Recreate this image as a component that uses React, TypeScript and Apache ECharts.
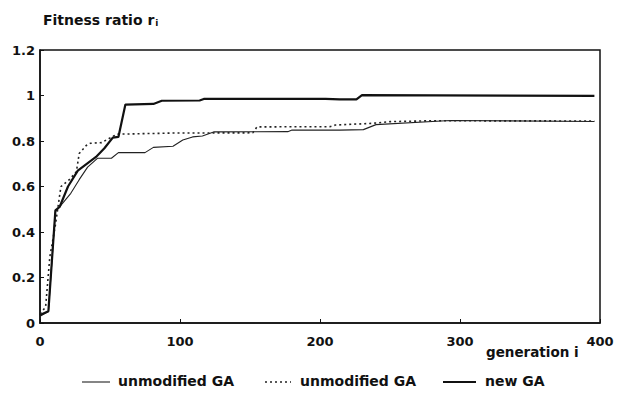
import React, { useEffect, useRef } from "react";
import * as echarts from "echarts";

const xTicks = [0, 100, 200, 300, 400];
const yTicks = [0, 0.2, 0.4, 0.6, 0.8, 1, 1.2];

const unmodifiedSolid: [number, number][] = [
  [0, 0.03], [6, 0.05], [11, 0.49], [14, 0.51], [18, 0.54], [22, 0.57], [28, 0.63],
  [34, 0.685], [41, 0.724], [51, 0.724], [56, 0.749], [75, 0.749], [81, 0.772],
  [95, 0.777], [102, 0.804], [109, 0.818], [116, 0.822], [124, 0.84], [177, 0.841],
  [180, 0.848], [214, 0.848], [231, 0.85], [240, 0.872], [293, 0.89], [396, 0.886],
];

const unmodifiedDotted: [number, number][] = [
  [0, 0.04], [4, 0.07], [7, 0.29], [11, 0.43], [14, 0.56], [15, 0.6], [21, 0.63],
  [26, 0.665], [28, 0.745], [33, 0.78], [36, 0.79], [44, 0.793], [55, 0.83],
  [96, 0.835], [152, 0.836], [155, 0.862], [207, 0.863], [211, 0.87], [238, 0.878],
  [250, 0.885], [279, 0.889], [396, 0.888],
];

const newGA: [number, number][] = [
  [0, 0.035], [6, 0.052], [11, 0.495], [14, 0.51], [20, 0.6], [27, 0.67], [40, 0.73],
  [46, 0.768], [52, 0.815], [56, 0.818], [61, 0.96], [81, 0.963], [87, 0.977],
  [114, 0.978], [117, 0.985], [204, 0.985], [214, 0.983], [226, 0.983], [230, 1.002],
  [396, 0.998],
];

const FONT = "'DejaVu Sans', sans-serif";

export default function App() {
  const ref = useRef<HTMLDivElement>(null);
  useEffect(() => {
    if (!ref.current) return;
    const chart = echarts.init(ref.current, null, { renderer: "svg" });
    const labelStyle = { color: "#111", fontFamily: FONT, fontWeight: "bold" as const, fontSize: 13 };
    chart.setOption({
      animation: false,
      backgroundColor: "#fff",
      grid: { left: 40, right: 17, top: 50, bottom: 71, show: true, borderColor: "#111", borderWidth: 1.5 },
      xAxis: {
        type: "value", min: xTicks[0], max: xTicks[xTicks.length - 1], interval: 100,
        axisLine: { show: true, lineStyle: { color: "#111", width: 1.5 } },
        axisTick: { show: true, inside: true, length: 4, lineStyle: { color: "#111" } },
        splitLine: { show: false },
        axisLabel: { ...labelStyle, margin: 12 },
      },
      yAxis: {
        type: "value", min: yTicks[0], max: yTicks[yTicks.length - 1], interval: 0.2,
        axisLine: { show: true, lineStyle: { color: "#111", width: 1.5 } },
        axisTick: { show: true, inside: true, length: 4, lineStyle: { color: "#111" } },
        splitLine: { show: false },
        axisLabel: { ...labelStyle, margin: 5, formatter: (v: number) => String(Math.round(v * 10) / 10) },
      },
      series: [
        { type: "line", name: "unmodified GA", data: unmodifiedSolid, symbol: "none",
          lineStyle: { color: "#222", width: 1.1 } },
        { type: "line", name: "unmodified GA (dotted)", data: unmodifiedDotted, symbol: "none",
          lineStyle: { color: "#222", width: 1.6, type: [2, 3] } },
        { type: "line", name: "new GA", data: newGA, symbol: "none",
          lineStyle: { color: "#111", width: 2.2 } },
      ],
      graphic: [
        { type: "text", left: 43, top: 13, style: {
          text: "Fitness ratio r{s|i}", fill: "#111", font: `bold 14px ${FONT}`,
          rich: { s: { fontSize: 9, fontWeight: "bold", fontFamily: FONT, verticalAlign: "bottom", padding: [6, 0, 0, 1] } } } },
        { type: "text", left: 486, top: 345, style: { text: "generation i", fill: "#111", font: `bold 13.5px ${FONT}` } },
        { type: "line", shape: { x1: 82, y1: 382, x2: 110, y2: 382 }, style: { stroke: "#222", lineWidth: 1.1 } },
        { type: "text", left: 118, top: 374, style: { text: "unmodified GA", fill: "#111", font: `bold 14px ${FONT}` } },
        { type: "line", shape: { x1: 265, y1: 382, x2: 291, y2: 382 }, style: { stroke: "#222", lineWidth: 1.6, lineDash: [2, 3] } },
        { type: "text", left: 300, top: 374, style: { text: "unmodified GA", fill: "#111", font: `bold 14px ${FONT}` } },
        { type: "line", shape: { x1: 443, y1: 382, x2: 476, y2: 382 }, style: { stroke: "#111", lineWidth: 2 } },
        { type: "text", left: 485, top: 374, style: { text: "new GA", fill: "#111", font: `bold 14px ${FONT}` } },
      ],
    });
    return () => chart.dispose();
  }, []);
  return <div ref={ref} style={{ width: 617, height: 394, position: "absolute", left: 0, top: 0 }} />;
}
